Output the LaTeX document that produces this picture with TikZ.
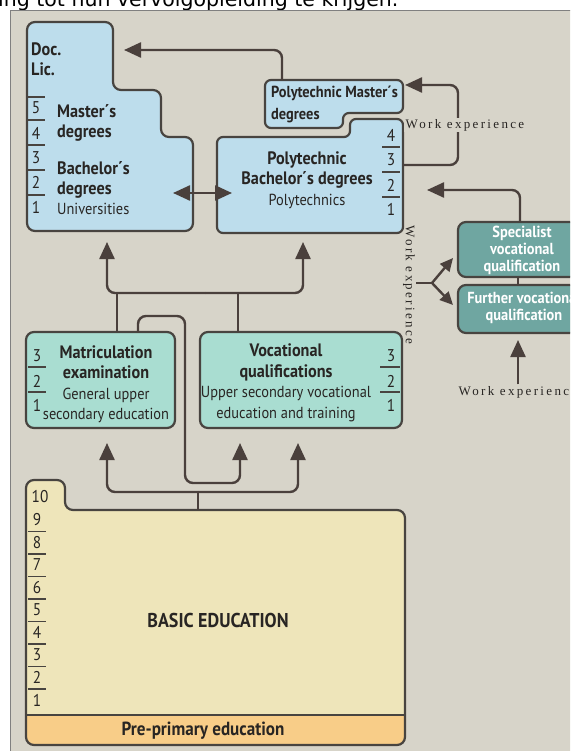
\documentclass[tikz,border=0pt]{standalone}
\usepackage{fontspec}
\newfontfamily\boxfont[FakeStretch=0.9]{PT Sans}
\newfontfamily\workfont[LetterSpace=18]{Liberation Serif}
\newfontfamily\stripfont{DejaVu Sans}
\usetikzlibrary{arrows.meta,positioning}

\begin{document}
\begin{tikzpicture}[x=1pt, y=-1pt,
    box/.style={draw=edgecol, line width=2.2pt, rounded corners=8pt},
    stepbox/.style={draw=edgecol, line width=2.2pt, rounded corners=6pt},
    link/.style={draw=arrowcol, line width=2.4pt, rounded corners=8pt},
    arr/.style={link, -{Triangle[length=17pt, width=15pt]}},
    smallarr/.style={link, -{Triangle[length=13pt, width=12pt]}},
    lbl/.style={font=\boxfont\bfseries\fontsize{18}{20.5}\selectfont, text=textcol, align=center, inner sep=0pt},
    num/.style={font=\boxfont\fontsize{17}{18}\selectfont, text=textcol, inner sep=0pt},
    work/.style={font=\workfont\fontsize{13}{14}\selectfont, text=textcol, inner sep=1.5pt, fill=panelcol}]

% Define colors
\definecolor{panelcol}{RGB}{215,212,201}
\definecolor{edgecol}{RGB}{72,68,64}
\definecolor{arrowcol}{RGB}{74,64,60}
\definecolor{textcol}{RGB}{40,37,35}
\definecolor{unicol}{RGB}{189,221,236}
\definecolor{seccol}{RGB}{169,221,209}
\definecolor{spccol}{RGB}{111,166,161}
\definecolor{basiccol}{RGB}{238,229,186}
\definecolor{precol}{RGB}{248,205,136}

% Helper for the year rules
\newcommand{\yearrule}[3]{%
    % #1 = x left, #2 = x right, #3 = y
    \draw[edgecol, line width=1.6pt] (#1,#3) -- (#2,#3);
}
\newcommand{\lighttext}[1]{{\mdseries\fontsize{16}{20.5}\selectfont #1}}

\clip (0,0) rectangle (570,751);

% Page strip and panel
\fill[white] (0,0) rectangle (570,751);
\begin{scope}
    \clip (0,0) rectangle (570,10);
    \node[font=\stripfont\fontsize{20.5}{22}\selectfont, anchor=base west, inner sep=0pt] (strip) at (-2,6.5) {ing tot hun vervolgopleiding te krijgen.};
\end{scope}
\fill[panelcol] (10,10) rectangle (575,755);
\draw[gray, line width=0.8pt] (10,755) -- (10,10) -- (575,10);

% Universities
\draw[box, fill=unicol] (27,22) -- (113,22) -- (113,90) -- (161,90) -- (161,137) -- (193,137) -- (193,231) -- (27,231) -- cycle;
\node[lbl, align=left, anchor=west] (doc) at (31,59) {Doc.\\Lic.};
\node[lbl, align=left, anchor=west] (umas) at (57,123) {Master´s\\degrees};
\node[lbl, align=left, anchor=west] (ubach) at (57,180) {Bachelor´s\\degrees};
\node[lbl, anchor=west] (univ) at (57,209) {\lighttext{Universities}};
\foreach \n/\y in {5/108, 4/133, 3/158, 2/182, 1/207} {
    \node[num] (uni\n) at (36,\y) {\n};
}
\foreach \y in {97, 120, 145, 170, 195} {
    \yearrule{27}{45}{\y}
}

% Polytechnics
\draw[stepbox, fill=unicol] (265,80) -- (403,80) -- (403,113) -- (343,113) -- (343,128) -- (265,128) -- cycle;
\node[lbl, font=\boxfont\bfseries\fontsize{16}{22}\selectfont, align=left, anchor=west] (pmas) at (271,104) {Polytechnic Master´s\\degrees};
\draw[stepbox, fill=unicol] (217,137) -- (350,137) -- (350,119) -- (403,119) -- (403,233) -- (217,233) -- cycle;
\node[lbl] (pbach) at (307,180) {Polytechnic\\Bachelor´s degrees\\\lighttext{Polytechnics}};
\foreach \n/\y in {4/135, 3/160, 2/185, 1/209} {
    \node[num] (poly\n) at (391,\y) {\n};
}
\foreach \y in {147, 172, 197} {
    \yearrule{382}{400}{\y}
}

% Upper secondary
\draw[box, fill=seccol] (26,332) rectangle (175,428);
\node[lbl] (mat) at (106,384) {Matriculation\\examination\\\lighttext{General upper}\\\lighttext{secondary education}};
\draw[box, fill=seccol] (200,332) rectangle (402,428);
\node[lbl] (voc) at (286,383) {Vocational\\qualifications\\\lighttext{Upper secondary vocational}\\\lighttext{education and training}};
\foreach \n/\y in {3/356, 2/381, 1/405} {
    \node[num] (mat\n) at (37,\y) {\n};
    \node[num] (voc\n) at (391,\y) {\n};
}
\foreach \y in {367, 392} {
    \yearrule{28}{46}{\y}
    \yearrule{380}{400}{\y}
}

% Further qualifications
\draw[box, fill=spccol] (458,222) rectangle (585,277);
\node[lbl, text=white, font=\boxfont\bfseries\fontsize{16}{17}\selectfont] (spc) at (522,250) {Specialist\\vocational\\qualification};
\draw[box, fill=spccol] (458,285) rectangle (585,333);
\node[lbl, text=white, font=\boxfont\bfseries\fontsize{16}{17}\selectfont] (fur) at (524,308) {Further vocational\\qualification};

% Basic education
\begin{scope}
    \clip[rounded corners=8pt] (26,745) -- (26,480) -- (65,480) -- (65,510) -- (405,510) -- (405,745) -- cycle;
    \fill[basiccol] (20,470) rectangle (410,750);
    \fill[precol] (20,715) rectangle (410,750);
\end{scope}
\draw[box] (26,745) -- (26,480) -- (65,480) -- (65,510) -- (405,510) -- (405,745) -- cycle;
\draw[edgecol, line width=2pt] (26,715) -- (405,715);
\node[lbl, font=\boxfont\bfseries\fontsize{20}{22}\selectfont] (basic) at (218,620) {BASIC EDUCATION};
\node[lbl, font=\boxfont\bfseries\fontsize{19}{21}\selectfont] (pre) at (203,731) {Pre-primary education};
\node[num] (bas10) at (40,497) {10};
\foreach \n in {9,8,...,1} {
    \pgfmathsetmacro{\ny}{520+22.5*(9-\n)}
    \node[num] (bas\n) at (37,\ny) {\n};
}
\foreach \k in {0,...,7} {
    \pgfmathsetmacro{\ly}{531.5+22.5*\k}
    \yearrule{28}{46}{\ly}
}

% Connector end points
\coordinate (masTop) at (282,80);
\coordinate (uniIn) at (124,50);
\coordinate (polyOut) at (403,165);
\coordinate (masIn) at (405,85);
\coordinate (spcTop) at (520,222);
\coordinate (polyIn) at (427,190);
\coordinate (uniSide) at (173,193);
\coordinate (polySide) at (232,193);
\coordinate (matUp) at (117,332);
\coordinate (vocUp) at (238,332);
\coordinate (upJoin) at (205,293);
\coordinate (uniBot) at (107,242);
\coordinate (polyBot) at (303,242);
\coordinate (basTop) at (198,510);
\coordinate (baseJoin) at (198,492);
\coordinate (matBot) at (107,443);
\coordinate (vocBot) at (298,443);
\coordinate (matLoop) at (138,332);
\coordinate (vocIn) at (240,443);
\coordinate (forkS) at (416,283);
\coordinate (forkO) at (432,283);
\coordinate (spcIn) at (453,258);
\coordinate (furIn) at (453,305);
\coordinate (spcBot) at (518,277);
\coordinate (furTop) at (518,285);
\coordinate (furBot) at (518,340);

% Draw connectors
\draw[arr] (masTop) |- (uniIn);
\draw[arr] (polyOut) -- (458,165) -- (458,85) -- (masIn);
\node[work] (wexp1) at (465,125) {Work experience};
\draw[arr] (spcTop) |- (polyIn);
\draw[link, {Triangle[length=17pt, width=15pt]}-{Triangle[length=17pt, width=15pt]}] (uniSide) -- (polySide);
\draw[link] (matUp) -- (matUp |- upJoin);
\draw[link] (vocUp) -- (vocUp |- upJoin);
\draw[arr] (upJoin) -| (uniBot);
\draw[arr] (upJoin) -| (polyBot);
\draw[link] (basTop) -- (baseJoin);
\draw[arr] (baseJoin) -| (matBot);
\draw[arr] (baseJoin) -| (vocBot);
\draw[arr] (matLoop) -- (138,316) -- (185,316) -- (185,483) -- (240,483) -- (vocIn);
\node[work, fill=none, rotate=-90] (wexp2) at (409,285) {Work experience};
\draw[link] (forkS) -- (forkO);
\draw[smallarr] (forkO) -- (spcIn);
\draw[smallarr] (forkO) -- (furIn);
\draw[link] (spcBot) -- (furTop);
\node[work, fill=none] (wexp3) at (518,392) {Work experience};
\draw[arr] (wexp3.north -| furBot) -- (furBot);

\end{tikzpicture}
\end{document}
